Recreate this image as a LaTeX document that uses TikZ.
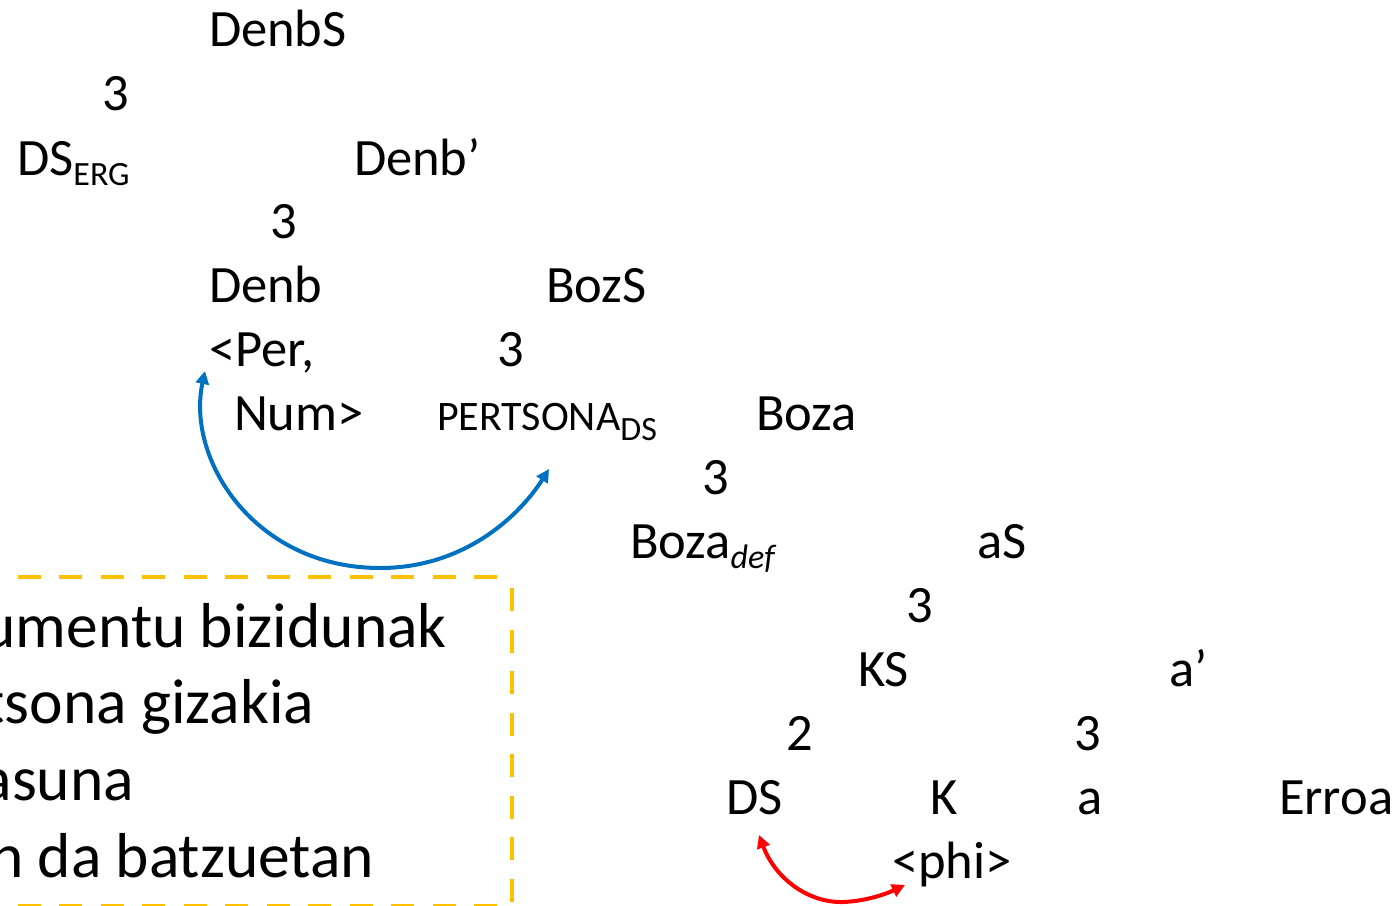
\documentclass[tikz,border=0pt]{standalone}
\usepackage{fontspec}
\setmainfont{Carlito}
\usetikzlibrary{arrows.meta}
\definecolor{arrowblue}{HTML}{0070C0}
\definecolor{arrowred}{HTML}{FF0000}
\definecolor{boxgold}{HTML}{FFC000}
\newcommand\lsub[1]{\raisebox{-10pt}{\fontsize{34}{40}\selectfont #1}}
\begin{document}
\begin{tikzpicture}[x=1pt,y=-1pt,
  lab/.style={anchor=base west,inner sep=0pt,outer sep=0pt,font=\fontsize{52.5}{62}\selectfont},
  small/.style={anchor=base west,inner sep=0pt,outer sep=0pt,font=\fontsize{42}{50}\selectfont},
  boxtext/.style={anchor=base east,inner sep=0pt,outer sep=0pt,font=\fontsize{63.5}{75}\selectfont},
  agree/.style={line width=4pt,{Triangle[length=13pt,width=13pt]}-{Triangle[length=13pt,width=13pt]}},
  boxline/.style={line width=4pt,draw=boxgold,dash pattern=on 23pt off 18.5pt}]
\useasboundingbox (0,0) rectangle (1397,905);
\begin{scope}
\clip (0,0) rectangle (1397,905);
% tree labels
\node[lab] (denbS) at (209,46) {DenbS};
\node[lab] (b1) at (102,110) {3};
\node[lab] (dserg) at (17,175) {DS\lsub{ERG}};
\node[lab] (denbbar) at (354,175) {Denb’};
\node[lab] (b2) at (270,238) {3};
\node[lab] (denb) at (209,302) {Denb};
\node[lab] (bozS) at (546,302) {BozS};
\node[lab] (per) at (209,366) {<Per,};
\node[lab] (b3) at (497,366) {3};
\node[lab] (num) at (234,430) {Num>};
\node[small] (pertsona) at (437,430) {PERTSONA\lsub{DS}};
\node[lab] (boza) at (756,430) {Boza};
\node[lab] (b4) at (702,494) {3};
\node[lab] (bozadef) at (630,558) {Boza\lsub{\itshape def}};
\node[lab] (aS) at (977,558) {aS};
\node[lab] (b5) at (906,622) {3};
\node[lab] (KS) at (858,686) {KS};
\node[lab] (abar) at (1169,686) {a’};
\node[lab] (b6) at (786,750) {2};
\node[lab] (b7) at (1074,750) {3};
\node[lab] (DS) at (726,814) {DS};
\node[lab] (K) at (930,814) {K};
\node[lab] (a) at (1077,814) {a};
\node[lab] (erroa) at (1279,814) {Erroa};
\node[lab] (phi) at (892,878) {<phi>};
% dashed box
\draw[boxline] (497,577) -- (-200,577);
\draw[boxline] (512,588) -- (512,1000);
\draw[boxline] (497,906) -- (-200,906);
\node[boxtext] (t1) at (447,647) {umentu bizidunak};
\node[boxtext] (t2) at (314,723) {tsona gizakia};
\node[boxtext] (t3) at (134,800) {asuna};
\node[boxtext] (t4) at (374,877) {n da batzuetan};
% agreement arrows
\coordinate (blueA) at (205,371);
\coordinate (blueM) at (380,568);
\coordinate (blueB) at (549,469);
\draw[agree,arrowblue] (blueA) .. controls (186,460) and (255,568) .. (blueM) .. controls (465,568) and (520,515) .. (blueB);
\coordinate (redA) at (759,835);
\coordinate (redM) at (843,902);
\coordinate (redB) at (905,885);
\draw[agree,arrowred] (redA) .. controls (775,878) and (808,903) .. (redM) .. controls (868,901) and (888,893) .. (redB);
\end{scope}
\end{tikzpicture}
\end{document}
